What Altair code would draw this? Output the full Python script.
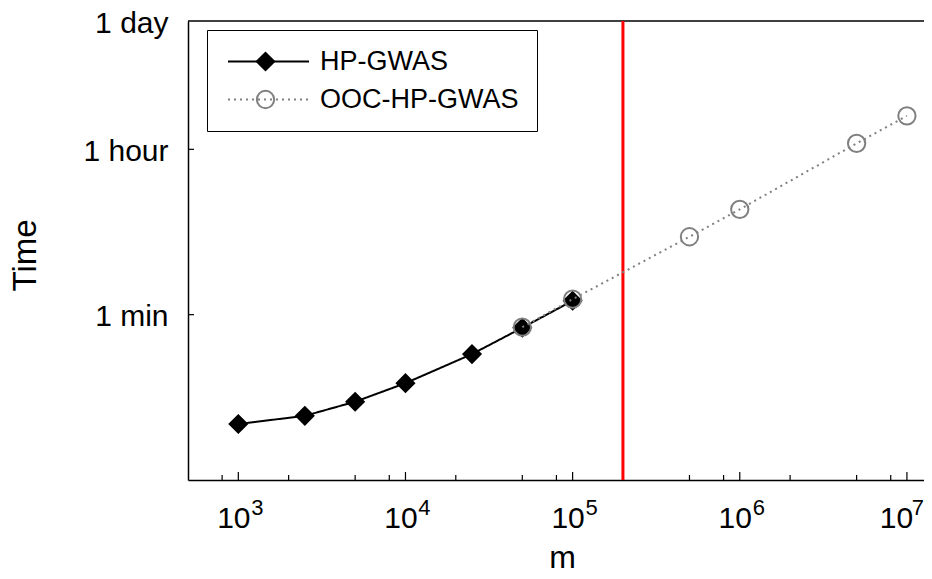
import altair as alt
import pandas as pd

# ---- data ----
series_names = ["HP-GWAS", "OOC-HP-GWAS"]
m_hp = [1000, 2500, 5000, 10000, 25000, 50000, 100000]
t_hp = [4.0, 4.9, 6.95, 11.0, 22.6, 43.4, 84.7]          # seconds
m_ooc = [50000, 100000, 500000, 1000000, 5000000, 10000000]
t_ooc = [44.0, 88.0, 413.0, 815.0, 4170.0, 8260.0]      # seconds
threshold_m = [200000]
x_major = [1e3, 1e4, 1e5, 1e6, 1e7]
x_exponents = ["3", "4", "5", "6", "7"]
x_minor = [800, 2000, 5000, 8000, 2e4, 5e4, 8e4, 2e5, 5e5, 8e5, 2e6, 5e6, 8e6]
y_tick_values = [60, 3600, 86400]
y_tick_labels = ["1 min", "1 hour", "1 day"]
y_inner_ticks = [60, 3600]

FONT = "Liberation Sans"
W, H = 736, 459

df = pd.DataFrame({
    "m": m_hp + m_ooc,
    "t": t_hp + t_ooc,
    "series": [series_names[0]] * len(m_hp) + [series_names[1]] * len(m_ooc),
})
df["series2"] = df["series"]

xscale = alt.Scale(type="log", domain=[500, 12650000], nice=False)
yscale = alt.Scale(type="log", domain=[1, 86400], nice=False)

ylabel_expr = " : ".join(
    f"datum.value == {v} ? '{l}'" for v, l in zip(y_tick_values[:-1], y_tick_labels[:-1])
) + f" : '{y_tick_labels[-1]}'"

xaxis = alt.Axis(values=x_major, labelExpr="'10'",
                 labelOffset={"condition": {"test": "datum.value >= 9000000", "value": -11},
                              "value": -5},
                 labelPadding=47,
                 labelBaseline="alphabetic", labelFont=FONT, labelFontSize=30,
                 labelColor="black", ticks=False, tickSize=0, grid=False,
                 domainColor="black", domainWidth=1.5, labelFlush=False,
                 labelOverlap=False, title="m", titleFont=FONT, titleFontSize=32,
                 titleFontWeight="normal", titleColor="black", titleX=374, titleY=87,
                 titleBaseline="alphabetic", titleAlign="center")
yaxis = alt.Axis(values=y_tick_values, labelExpr=ylabel_expr, labelPadding=20,
                 labelBaseline="alphabetic", labelOffset=11, labelFont=FONT,
                 labelFontSize=30, labelColor="black", ticks=False, tickSize=0,
                 grid=False, domainColor="black", domainWidth=1.5, labelFlush=False,
                 labelOverlap=False, title="Time", titleFont=FONT, titleFontSize=33,
                 titleFontWeight="normal", titleColor="black", titleAngle=270,
                 titleX=-153, titleY=234, titleBaseline="alphabetic", titleAlign="center")

def X(field):
    return alt.X(field, type="quantitative", scale=xscale, axis=xaxis, title="m")

def Y(field):
    return alt.Y(field, type="quantitative", scale=yscale, axis=yaxis, title="Time")

legA = alt.Legend(orient="none", legendX=19, legendY=9, title=None,
                  symbolType="M-4,0H4", symbolSize=410, symbolStrokeWidth=2,
                  symbolOffset=30, labelFont=FONT, labelFontSize=27, labelColor="black",
                  labelOffset=38, rowPadding=10, padding=18, strokeColor="black",
                  labelLimit=0)
legB = alt.Legend(orient="none", legendX=64, legendY=27, title=None,
                  symbolSize=300, symbolStrokeWidth=2, symbolOpacity=1,
                  labelExpr="' '", labelFont=FONT, labelFontSize=27,
                  rowPadding=10, padding=0)

color = alt.Color("series:N", scale=alt.Scale(range=["black", "#808080"]), legend=legA)
dash = alt.StrokeDash("series:N", scale=alt.Scale(range=[[1, 0], [2, 4]]), legend=legA)
shape = alt.Shape("series2:N", scale=alt.Scale(range=["diamond", "circle"]), legend=legB)
fill = alt.Fill("series2:N", scale=alt.Scale(range=["black", "transparent"]), legend=legB)
stroke = alt.Stroke("series2:N", scale=alt.Scale(range=["black", "#808080"]), legend=legB)

base = alt.Chart(df)

def line_layer(name):
    return base.transform_filter(alt.datum.series == name).mark_line(strokeWidth=2).encode(
        x=X("m"), y=Y("t"), color=color, strokeDash=dash)

def point_layer(name):
    return base.transform_filter(alt.datum.series == name).mark_point(
        size=300, strokeWidth=2, opacity=1).encode(
        x=X("m"), y=Y("t"), shape=shape, fill=fill, stroke=stroke)

major_ticks = alt.Chart(pd.DataFrame({"pos": x_major})).mark_rule(
    color="black", strokeWidth=1.2).encode(x=X("pos"), y=alt.value(H), y2=alt.value(H - 8))
minor_ticks = alt.Chart(pd.DataFrame({"pos": x_minor})).mark_rule(
    color="black", strokeWidth=1.2).encode(x=X("pos"), y=alt.value(H), y2=alt.value(H - 5))
y_ticks = alt.Chart(pd.DataFrame({"val": y_inner_ticks})).mark_rule(
    color="black", strokeWidth=1.2).encode(y=Y("val"), x=alt.value(0), x2=alt.value(6))
top_border = alt.Chart(alt.Data(values=[{}])).mark_rule(
    color="black", strokeWidth=1.5).encode(x=alt.value(0), x2=alt.value(W), y=alt.value(0))
red_line = alt.Chart(pd.DataFrame({"m": threshold_m})).mark_rule(
    color="#ff0000", strokeWidth=3).encode(x=X("m"))

sup_df = pd.DataFrame({"pos": x_major, "exp": x_exponents})
sup_style = dict(font=FONT, fontSize=22, baseline="alphabetic", align="center", color="black")
superscripts = alt.Chart(sup_df).transform_filter(alt.datum.pos < 9000000).mark_text(
    dx=19, **sup_style).encode(x=X("pos"), y=alt.value(494), text="exp:N")
superscript_last = alt.Chart(sup_df).transform_filter(alt.datum.pos >= 9000000).mark_text(
    dx=11, **sup_style).encode(x=X("pos"), y=alt.value(494), text="exp:N")

chart = alt.layer(
    major_ticks, minor_ticks, y_ticks, top_border, red_line,
    line_layer(series_names[0]), point_layer(series_names[0]),
    line_layer(series_names[1]), point_layer(series_names[1]),
    superscripts, superscript_last,
).properties(
    width=W, height=H,
    autosize=alt.AutoSizeParams(type="none"),
    padding={"left": 180, "top": 13, "right": 0, "bottom": 91},
).configure_view(stroke=None).configure_axis(grid=False)

chart.save("out.html", embed_options={"renderer": "svg", "actions": False})
